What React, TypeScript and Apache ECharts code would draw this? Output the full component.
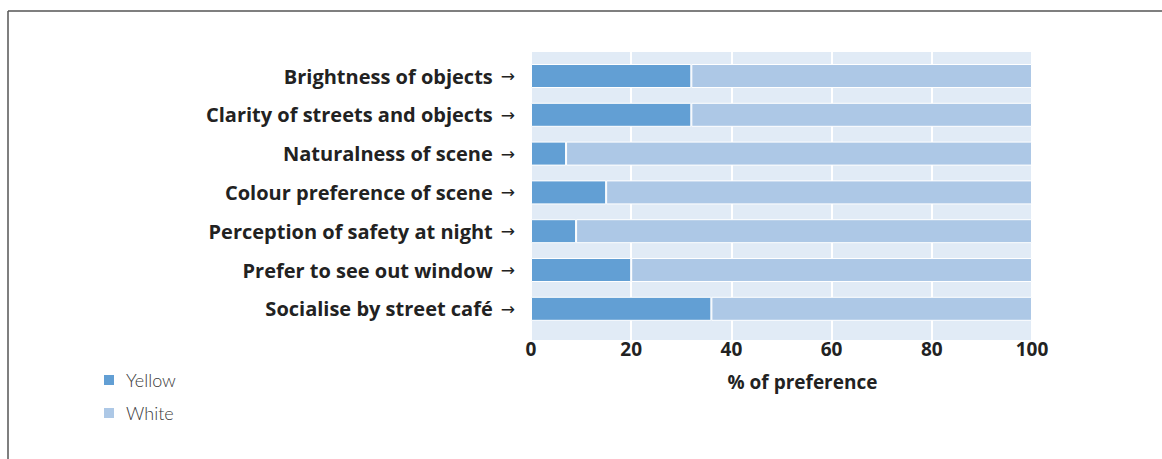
import React, { useEffect, useRef } from "react";
import * as echarts from "echarts";

const categories = [
  "Brightness of objects",
  "Clarity of streets and objects",
  "Naturalness of scene",
  "Colour preference of scene",
  "Perception of safety at night",
  "Prefer to see out window",
  "Socialise by street café",
];
const yellowValues = [32, 32, 7, 15, 9, 20, 36];
const whiteValues = [68, 68, 93, 85, 91, 80, 64];
const xTicks = [0, 20, 40, 60, 80, 100];

const BOLD_FONT = "'Open Sans', Lato, sans-serif";
const LIGHT_FONT = "Lato, 'Open Sans', sans-serif";

export default function App() {
  const ref = useRef<HTMLDivElement>(null);
  useEffect(() => {
    if (!ref.current) return;
    const chart = echarts.init(ref.current, undefined, { renderer: "svg" });
    const option: any = {
      animation: false,
      backgroundColor: "#ffffff",
      textStyle: { fontFamily: BOLD_FONT },
      graphic: [
        { type: "line", shape: { x1: 8, y1: 11, x2: 1162, y2: 11 }, style: { stroke: "#555", lineWidth: 1.5 }, z: 100 },
        { type: "line", shape: { x1: 8, y1: 11, x2: 8, y2: 459 }, style: { stroke: "#555", lineWidth: 1.5 }, z: 100 },
      ],
      legend: {
        orient: "vertical",
        left: 102,
        top: 371,
        padding: 0,
        itemWidth: 12,
        itemHeight: 12,
        itemGap: 15,
        icon: "rect",
        textStyle: { fontSize: 18, color: "#3a3a3a", fontFamily: LIGHT_FONT, fontWeight: 300, padding: [0, 0, 0, 6] },
        data: ["Yellow", "White"],
      },
      grid: [
        { left: 531, right: 130, top: 52, height: 288, show: true, backgroundColor: "#e1ebf6", borderWidth: 0, containLabel: false },
        { left: 531, right: 130, top: 56.6, height: 271.6, containLabel: false },
      ],
      xAxis: [
        {
          gridIndex: 0,
          type: "value",
          min: 0,
          max: 100,
          interval: 20,
          axisLine: { show: false },
          axisTick: { show: false },
          axisLabel: { show: false },
          splitLine: { show: true, lineStyle: { color: "#ffffff", width: 2 } },
        },
        {
          gridIndex: 1,
          type: "value",
          min: 0,
          max: 100,
          interval: 20,
          axisLine: { show: false },
          axisTick: { show: false },
          splitLine: { show: false },
          axisLabel: {
            margin: 11,
            fontSize: 19,
            fontWeight: "bold",
            color: "#222",
            fontFamily: BOLD_FONT,
            formatter: (v: number) => (xTicks.includes(v) ? String(v) : ""),
          },
          name: "% of preference",
          nameLocation: "middle",
          nameGap: 44,
          nameTextStyle: { fontSize: 19, fontWeight: "bold", color: "#222", fontFamily: BOLD_FONT, padding: [0, 0, 0, 42] },
        },
      ],
      yAxis: [
        { gridIndex: 0, type: "value", show: false },
        {
          gridIndex: 1,
          type: "category",
          data: categories,
          inverse: true,
          axisLine: { show: false },
          axisTick: { show: false },
          axisLabel: {
            margin: 16,
            formatter: (v: string) => `{t|${v}}{a|→}`,
            rich: {
              t: { fontSize: 20, fontWeight: "bold", color: "#222", fontFamily: BOLD_FONT },
              a: { fontSize: 17, color: "#222", fontFamily: "'DejaVu Sans', sans-serif", padding: [0, 0, 0, 8] },
            },
          },
        },
      ],
      series: [
        {
          name: "Yellow",
          type: "bar",
          stack: "pref",
          xAxisIndex: 1,
          yAxisIndex: 1,
          barWidth: 24,
          data: yellowValues,
          itemStyle: { color: "#629fd4", borderColor: "#ffffff", borderWidth: 1 },
        },
        {
          name: "White",
          type: "bar",
          stack: "pref",
          xAxisIndex: 1,
          yAxisIndex: 1,
          barWidth: 24,
          data: whiteValues,
          itemStyle: { color: "#adc8e6", borderColor: "#ffffff", borderWidth: 1 },
        },
      ],
    };
    chart.setOption(option);
    return () => chart.dispose();
  }, []);
  return (
    <div
      ref={ref}
      style={{ position: "absolute", left: 0, top: 0, width: 1162, height: 459 }}
    />
  );
}
